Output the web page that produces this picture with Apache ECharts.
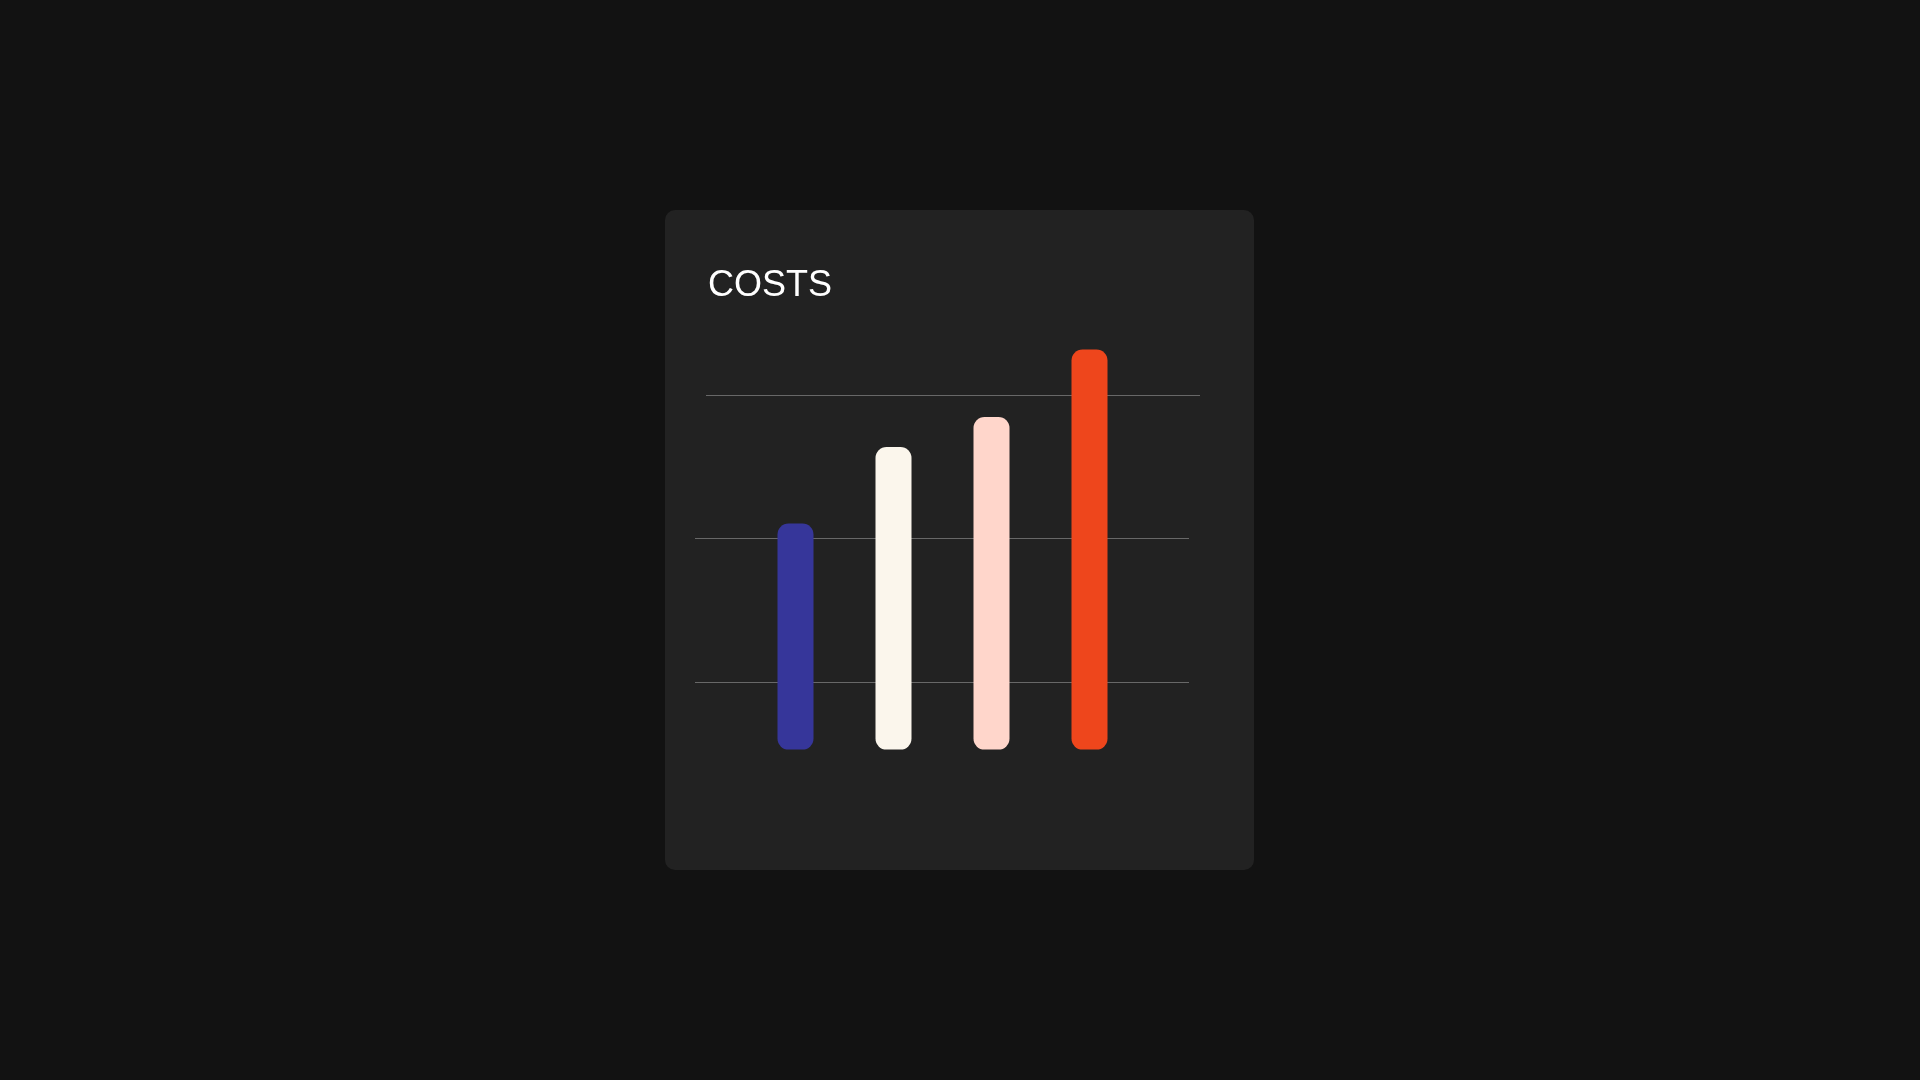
<!DOCTYPE html>
<html>
<head>
<meta charset="utf-8">
<script src="https://cdn.jsdelivr.net/npm/echarts@6/dist/echarts.min.js"></script>
<style>
  html, body { margin: 0; padding: 0; width: 1920px; height: 1080px; background: #121212; overflow: hidden; }
  #card { position: absolute; left: 665px; top: 210px; width: 589px; height: 660px; background: #222222; border-radius: 10px; }
  #chart { position: absolute; left: 0; top: 0; width: 1920px; height: 1080px; }
</style>
</head>
<body>
<div id="card"></div>
<div id="chart"></div>
<script>
const titleText = 'COSTS';
const categories = ['A', 'B', 'C', 'D'];
const costs = [45.2, 60.5, 66.5, 80];
const barColors = ['#36369A', '#FBF6EC', '#FFD6CB', '#EE461C'];
const lowerGridTicks = { min: 0, max: 2, interval: 1 };
const upperGridTicks = { min: 0, max: 1, interval: 1 };

const chart = echarts.init(document.getElementById('chart'), null, { renderer: 'canvas' });

const hiddenAxis = {
  axisLine: { show: false },
  axisTick: { show: false },
  axisLabel: { show: false },
  splitLine: { show: false }
};
const gridLineStyle = { color: '#686868', width: 1 };

const option = {
  backgroundColor: 'transparent',
  animation: false,
  title: {
    text: titleText,
    left: 703,
    top: 263,
    textStyle: { color: '#ffffff', fontSize: 36, fontWeight: 'normal', fontFamily: 'Liberation Sans, Arial, sans-serif' }
  },
  grid: [
    { left: 746.5, width: 392, top: 349.6, height: 400 },
    { left: 695, width: 494, top: 538.5, height: 287 },
    { left: 706, width: 494, top: 395, height: 143.5 }
  ],
  xAxis: [
    Object.assign({ type: 'category', data: categories, gridIndex: 0, boundaryGap: true }, hiddenAxis),
    Object.assign({ type: 'value', gridIndex: 1 }, hiddenAxis),
    Object.assign({ type: 'value', gridIndex: 2 }, hiddenAxis)
  ],
  yAxis: [
    Object.assign({ type: 'value', gridIndex: 0, min: 0, max: 80 }, hiddenAxis),
    {
      type: 'value', gridIndex: 1,
      min: lowerGridTicks.min, max: lowerGridTicks.max, interval: lowerGridTicks.interval,
      axisLine: { show: false }, axisTick: { show: false }, axisLabel: { show: false },
      splitLine: { show: true, showMinLine: false, showMaxLine: true, lineStyle: gridLineStyle }
    },
    {
      type: 'value', gridIndex: 2,
      min: upperGridTicks.min, max: upperGridTicks.max, interval: upperGridTicks.interval,
      axisLine: { show: false }, axisTick: { show: false }, axisLabel: { show: false },
      splitLine: { show: true, showMinLine: false, showMaxLine: true, lineStyle: gridLineStyle }
    }
  ],
  series: [
    {
      type: 'bar',
      xAxisIndex: 0,
      yAxisIndex: 0,
      barWidth: 36,
      clip: false,
      z: 5,
      data: costs.map((v, i) => ({ value: v, itemStyle: { color: barColors[i], borderRadius: 11 } }))
    }
  ]
};
chart.setOption(option);
</script>
</body>
</html>
